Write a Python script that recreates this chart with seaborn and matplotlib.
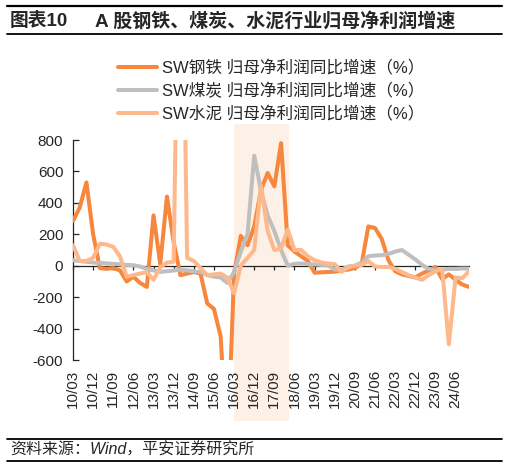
import numpy as np
import pandas as pd
import matplotlib
matplotlib.use("Agg")
import matplotlib.pyplot as plt
from matplotlib.lines import Line2D
import seaborn as sns

sns.set_style("ticks")
plt.rcParams['font.family'] = ['Liberation Sans', 'Noto Sans CJK SC', 'DejaVu Sans']
plt.rcParams['axes.unicode_minus'] = False

# Quarterly categories 2010Q1 .. 2024Q4
quarters = [f"{y % 100:02d}/{m:02d}" for y in range(2010, 2025) for m in (3, 6, 9, 12)]

steel = [285, 370, 530, 200, -15, -20, -15, -30, -100, -70,
         -110, -135, 320, 10, 440, 150, -60, -50, -40, -50,
         -240, -275, -450, -1200, -50, 190, 130, 250, 480, 590,
         505, 780, 130, 90, 60, 30, -45, -42, -40, -38,
         -30, -25, -15, 10, 250, 240, 170, 35, -35, -55,
         -65, -75, -50, -30, -8, -85, -55, -90, -120, -135]

coal = [35, 30, 25, 20, 18, 15, 12, 8, 5, 3,
        -5, -20, -30, -39, -35, -30, -25, -30, -35, -40,
        -60, -70, -75, -110, -40, 90, 200, 700, 480, 320,
        220, 100, 0, 12, 14, 10, 8, 5, 3, -25,
        -25, -5, 0, 20, 60, 65, 67, 75, 90, 100,
        70, 40, 5, -20, -30, -25, -20, -20, -18, -18]

cement = [130, 30, 30, 50, 140, 135, 120, 60, -70, -60,
          -50, -40, -90, -10, 20, 25, 3000, 50, 30, -15,
          -60, -55, -50, -75, -175, 0, 50, 100, 510, 220,
          100, 110, 230, 100, 100, 60, 35, 20, 14, 10,
          -39, -10, 0, 5, 30, -5, -8, -8, -20, -40,
          -60, -75, -90, -60, -35, -20, -500, -75, -80, -35]

names = ["SW钢铁 归母净利润同比增速（%）",
         "SW煤炭 归母净利润同比增速（%）",
         "SW水泥 归母净利润同比增速（%）"]
colors = ["#F7873C", "#BFBFBF", "#FDB98C"]

n = len(quarters)
df = pd.concat([
    pd.DataFrame({"x": np.arange(n), "v": vals, "s": nm})
    for vals, nm in zip([steel, coal, cement], names)
])

fig = plt.figure(figsize=(5.08, 4.68), dpi=100)
ax = fig.add_axes([73/508, 1-360/468, 396/508, 220/468])

# shaded period 16/03 - 18/03
ax.axvspan(24, 32.2, ymin=-0.277, ymax=1.073, color="#FDF0E6", lw=0, zorder=0, clip_on=False)

sns.lineplot(data=df, x="x", y="v", hue="s", palette=dict(zip(names, colors)),
             linewidth=2.9, ax=ax, legend=False, zorder=3)

ax.set_xlim(0, n - 1)
ax.set_ylim(-600, 800)
ax.set_yticks(np.arange(-600, 801, 200))
ax.set_xlabel("")
ax.set_ylabel("")
ax.tick_params(axis='y', direction='in', length=4, width=0.9, labelsize=11, pad=7)
ax.spines['left'].set_linewidth(0.9)
ax.spines['right'].set_visible(False)
ax.spines['top'].set_visible(False)
ax.spines['bottom'].set_position(('data', 0))
ax.spines['bottom'].set_linewidth(0.9)
ax.spines['bottom'].set_zorder(2)
ax.set_xticks(np.arange(0, n, 3))
ax.tick_params(axis='x', direction='out', length=3, width=0.9, labelbottom=False)

sec = ax.secondary_xaxis(0)
sec.set_xticks(np.arange(0, n, 3))
sec.set_xticklabels([quarters[i] for i in range(0, n, 3)], rotation=90)
sec.tick_params(axis='x', length=0, labelsize=11, pad=7)
for sp in sec.spines.values():
    sp.set_visible(False)

handles = [Line2D([], [], color=c, lw=2.9) for c in colors]
fig.legend(handles, names, loc='upper left', bbox_to_anchor=(118/508, 1-60/468),
           frameon=False, fontsize=12, handlelength=2.35, handletextpad=0.3,
           labelspacing=0.42, borderpad=0, borderaxespad=0)

fig.text(10/508, 1-21/468, "图表10", fontsize=13.5, fontweight='bold', va='center', ha='left')
fig.text(95/508, 1-21/468, "A 股钢铁、煤炭、水泥行业归母净利润增速",
         fontsize=13.7, fontweight='bold', va='center', ha='left')
fig.text(10/508, 1-450/468, "资料来源：Wind，平安证券研究所",
         fontsize=11.5, va='center', ha='left', style='italic')

for yy, lw in [(6, 1.6), (34, 1.3), (439, 1.3), (461, 1.3)]:
    fig.add_artist(Line2D([7/508, 502/508], [1-yy/468, 1-yy/468], color='black', lw=lw))

fig.savefig("out.png", dpi=100)
